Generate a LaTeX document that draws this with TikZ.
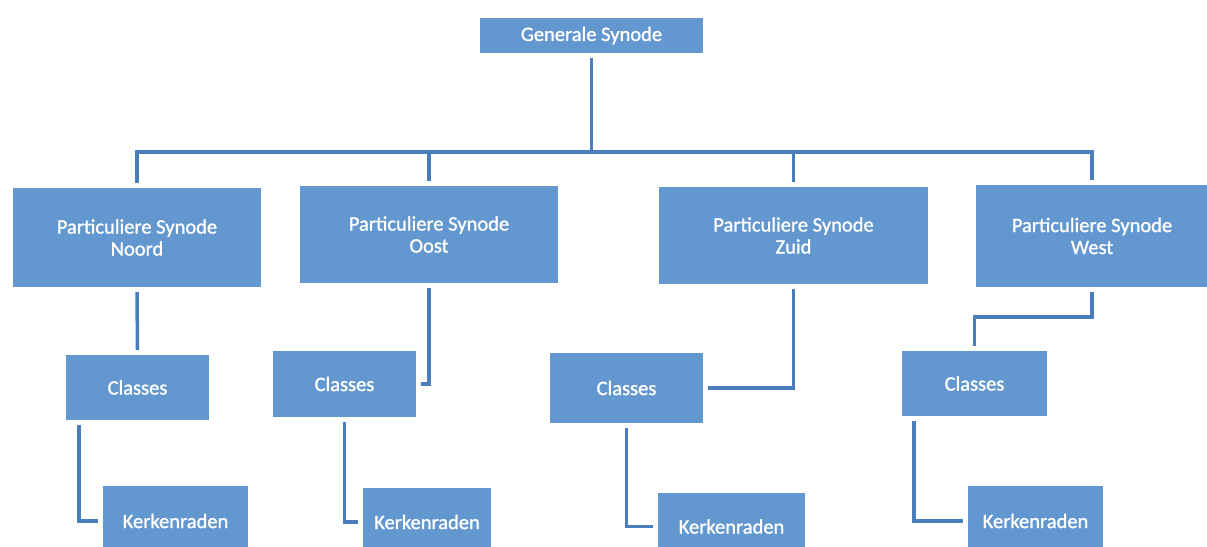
\documentclass[tikz,border=0pt]{standalone}
\usepackage{fontspec}
\setmainfont{Carlito}
\newfontfamily\orgfont{Carlito}[FakeBold=1.2]
\definecolor{boxfill}{RGB}{99,151,207}
\definecolor{linec}{RGB}{74,126,187}
\begin{document}
\begin{tikzpicture}[x=1pt,y=-1pt,
  orgbox/.style={fill=boxfill,draw=none,text=white,align=center,inner sep=0pt,
    font=\orgfont\fontsize{20.5}{22}\selectfont},
  conn/.style={draw=linec,line width=3.5pt,line cap=butt,line join=miter},
  gapin/.style={shorten >=5pt},
  gapout/.style={shorten <=5pt}]
\useasboundingbox (0,0) rectangle (1207,546);
\clip (0,0) rectangle (1207,546);
\fill[white] (0,0) rectangle (1207,546);

\node[orgbox,minimum width=223pt,minimum height=35pt] (gs) at (591.5,35.5) {Generale Synode};

\node[orgbox,minimum width=248pt,minimum height=99pt] (psN) at (137,237.5) {Particuliere Synode\\Noord};
\node[orgbox,minimum width=258pt,minimum height=97pt] (psO) at (429,234.5) {Particuliere Synode\\Oost};
\node[orgbox,minimum width=269pt,minimum height=97pt] (psZ) at (793.5,235.5) {Particuliere Synode\\Zuid};
\node[orgbox,minimum width=232pt,minimum height=102pt] (psW) at (1092,236) {Particuliere Synode\\West};

\node[orgbox,minimum width=143pt,minimum height=65pt] (clN) at (137.5,387.5) {Classes};
\node[orgbox,minimum width=143pt,minimum height=66pt] (clO) at (344.5,384) {Classes};
\node[orgbox,minimum width=153pt,minimum height=70pt] (clZ) at (626.5,388) {Classes};
\node[orgbox,minimum width=145pt,minimum height=65pt] (clW) at (974.5,383.5) {Classes};

\node[orgbox,minimum width=145pt,minimum height=70pt] (kN) at (175.5,521) {Kerkenraden};
\node[orgbox,minimum width=128pt,minimum height=68pt] (kO) at (427,522) {Kerkenraden};
\node[orgbox,minimum width=147pt,minimum height=67pt] (kZ) at (731.5,526.5) {Kerkenraden};
\node[orgbox,minimum width=135pt,minimum height=70pt] (kW) at (1035.5,521) {Kerkenraden};

\coordinate (bus) at (591.5,152);

\draw[conn,gapout] (gs.south) -- (bus);
\draw[conn,gapin] (bus) -| (psN.north);
\draw[conn,gapin] (bus) -| (psO.north);
\draw[conn,gapin] (bus) -| (psZ.north);
\draw[conn,gapin] (bus) -| (psW.north);

\draw[conn,gapout,gapin] (psN.south) -- (clN.north);
\draw[conn,gapout,gapin] (psO.south) |- (clO.east);
\draw[conn,gapout,gapin] (psZ.south) |- (clZ.east);
\draw[conn,gapout,gapin] (psW.south) -- ++(0,30) -| (clW.north);

\draw[conn,gapout,gapin] ([xshift=13pt]clN.south west) |- (kN.west);
\draw[conn,gapout,gapin] (clO.south) |- (kO.west);
\draw[conn,gapout,gapin] (clZ.south) |- (kZ.west);
\draw[conn,gapout,gapin] ([xshift=12pt]clW.south west) |- (kW.west);
\end{tikzpicture}
\end{document}
